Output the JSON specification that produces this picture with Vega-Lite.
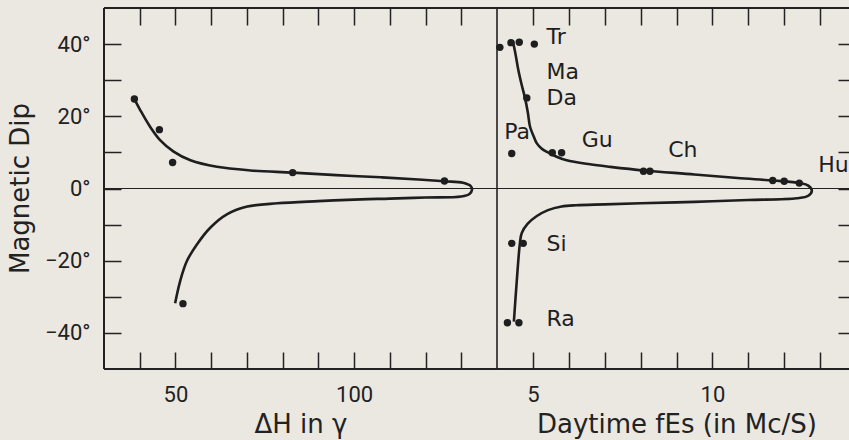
{
  "$schema": "https://vega.github.io/schema/vega-lite/v6.json",
  "width": 745,
  "height": 361,
  "autosize": {"type": "none"},
  "padding": {"left": 104, "top": 8, "right": 0, "bottom": 71},
  "background": "#ebe7e1",
  "config": {
    "view": {"stroke": null},
    "axis": {
      "grid": false,
      "domain": false,
      "tickColor": "#222222",
      "tickWidth": 1.5,
      "tickSize": 17,
      "offset": -17,
      "labelColor": "#222222",
      "labelFont": "Roboto",
      "labelFontSize": 22,
      "labelOverlap": false,
      "labelFlush": false,
      "titleColor": "#222222",
      "titleFont": "DejaVu Sans",
      "titleFontSize": 26,
      "titleFontWeight": "normal"
    }
  },
  "datasets": {
    "swing_curve": [
      {"seq": 1, "dh": 38.8, "dip": 24.2},
      {"seq": 2, "dh": 40.1, "dip": 21.8},
      {"seq": 3, "dh": 42.9, "dip": 17.1},
      {"seq": 4, "dh": 45.7, "dip": 13.4},
      {"seq": 5, "dh": 49.5, "dip": 10.2},
      {"seq": 6, "dh": 54.2, "dip": 7.8},
      {"seq": 7, "dh": 61.6, "dip": 6.0},
      {"seq": 8, "dh": 71.0, "dip": 5.0},
      {"seq": 9, "dh": 82.8, "dip": 4.4},
      {"seq": 10, "dh": 95.0, "dip": 3.7},
      {"seq": 11, "dh": 107.5, "dip": 3.1},
      {"seq": 12, "dh": 118.0, "dip": 2.5},
      {"seq": 13, "dh": 125.3, "dip": 2.0},
      {"seq": 14, "dh": 130.5, "dip": 1.6},
      {"seq": 15, "dh": 132.6, "dip": 0.7},
      {"seq": 16, "dh": 133.0, "dip": -0.4},
      {"seq": 17, "dh": 132.3, "dip": -1.5},
      {"seq": 18, "dh": 130.0, "dip": -2.2},
      {"seq": 19, "dh": 120.0, "dip": -2.5},
      {"seq": 20, "dh": 110.0, "dip": -2.8},
      {"seq": 21, "dh": 101.9, "dip": -3.0},
      {"seq": 22, "dh": 90.0, "dip": -3.5},
      {"seq": 23, "dh": 78.5, "dip": -4.1},
      {"seq": 24, "dh": 70.1, "dip": -5.0},
      {"seq": 25, "dh": 64.5, "dip": -7.1},
      {"seq": 26, "dh": 59.8, "dip": -10.8},
      {"seq": 27, "dh": 56.0, "dip": -15.5},
      {"seq": 28, "dh": 53.2, "dip": -20.1},
      {"seq": 29, "dh": 51.3, "dip": -25.7},
      {"seq": 30, "dh": 49.9, "dip": -31.8}
    ],
    "swing_obs": [
      {"dh": 38.5, "dip": 24.8},
      {"dh": 45.5, "dip": 16.3},
      {"dh": 49.2, "dip": 7.2},
      {"dh": 82.8, "dip": 4.4},
      {"dh": 125.3, "dip": 2.1},
      {"dh": 52.1, "dip": -31.9}
    ],
    "fes_curve": [
      {"seq": 1, "fes": 4.44, "dip": 40.9},
      {"seq": 2, "fes": 4.52, "dip": 37.0},
      {"seq": 3, "fes": 4.59, "dip": 33.0},
      {"seq": 4, "fes": 4.68, "dip": 29.0},
      {"seq": 5, "fes": 4.78, "dip": 25.1},
      {"seq": 6, "fes": 4.86, "dip": 21.0},
      {"seq": 7, "fes": 4.92, "dip": 17.1},
      {"seq": 8, "fes": 5.02, "dip": 14.5},
      {"seq": 9, "fes": 5.11, "dip": 12.5},
      {"seq": 10, "fes": 5.24, "dip": 11.1},
      {"seq": 11, "fes": 5.38, "dip": 10.2},
      {"seq": 12, "fes": 5.66, "dip": 8.8},
      {"seq": 13, "fes": 5.94, "dip": 7.8},
      {"seq": 14, "fes": 6.59, "dip": 6.7},
      {"seq": 15, "fes": 7.15, "dip": 6.0},
      {"seq": 16, "fes": 8.08, "dip": 5.0},
      {"seq": 17, "fes": 9.5, "dip": 3.9},
      {"seq": 18, "fes": 10.7, "dip": 2.9},
      {"seq": 19, "fes": 11.7, "dip": 2.2},
      {"seq": 20, "fes": 12.44, "dip": 1.5},
      {"seq": 21, "fes": 12.67, "dip": 0.8},
      {"seq": 22, "fes": 12.77, "dip": -0.6},
      {"seq": 23, "fes": 12.67, "dip": -2.0},
      {"seq": 24, "fes": 12.35, "dip": -2.7},
      {"seq": 25, "fes": 11.0, "dip": -3.2},
      {"seq": 26, "fes": 9.5, "dip": -3.7},
      {"seq": 27, "fes": 8.0, "dip": -4.1},
      {"seq": 28, "fes": 7.0, "dip": -4.4},
      {"seq": 29, "fes": 6.2, "dip": -4.64},
      {"seq": 30, "fes": 5.8, "dip": -5.0},
      {"seq": 31, "fes": 5.42, "dip": -6.0},
      {"seq": 32, "fes": 5.1, "dip": -7.7},
      {"seq": 33, "fes": 4.85, "dip": -9.8},
      {"seq": 34, "fes": 4.69, "dip": -12.3},
      {"seq": 35, "fes": 4.64, "dip": -15.0},
      {"seq": 36, "fes": 4.55, "dip": -25.7},
      {"seq": 37, "fes": 4.47, "dip": -36.9}
    ],
    "fes_obs": [
      {"fes": 4.08, "dip": 39.1},
      {"fes": 4.39, "dip": 40.4},
      {"fes": 4.62, "dip": 40.5},
      {"fes": 5.04, "dip": 40.0},
      {"fes": 4.83, "dip": 25.1},
      {"fes": 4.41, "dip": 9.7},
      {"fes": 5.54, "dip": 9.9},
      {"fes": 5.8, "dip": 9.9},
      {"fes": 8.08, "dip": 4.8},
      {"fes": 8.26, "dip": 4.8},
      {"fes": 11.68, "dip": 2.2},
      {"fes": 12.0, "dip": 2.0},
      {"fes": 12.42, "dip": 1.5},
      {"fes": 4.41, "dip": -15.2},
      {"fes": 4.73, "dip": -15.2},
      {"fes": 4.29, "dip": -37.2},
      {"fes": 4.61, "dip": -37.2}
    ],
    "stations": [
      {"station": "Tr", "fes": 5.38, "dip": 42.0},
      {"station": "Ma", "fes": 5.38, "dip": 32.4},
      {"station": "Da", "fes": 5.38, "dip": 25.2},
      {"station": "Pa", "fes": 4.2, "dip": 15.7},
      {"station": "Gu", "fes": 6.36, "dip": 13.4},
      {"station": "Ch", "fes": 8.77, "dip": 10.6},
      {"station": "Hu", "fes": 12.95, "dip": 6.4},
      {"station": "Si", "fes": 5.38, "dip": -15.5},
      {"station": "Ra", "fes": 5.38, "dip": -36.2}
    ],
    "frame_x": [{"edge": 30, "w": 2}, {"edge": 140, "w": 1.6}],
    "frame_y": [{"edge": 50, "w": 2}, {"edge": -50, "w": 2}, {"edge": 0, "w": 1}]
  },
  "resolve": {"scale": {"x": "independent", "y": "independent"}},
  "layer": [
    {
      "layer": [
        {
          "data": {"name": "frame_y"},
          "mark": {"type": "rule", "color": "#222222"},
          "encoding": {
            "y": {"field": "edge", "type": "quantitative", "scale": {"domain": [-50, 50]}},
            "strokeWidth": {"field": "w", "type": "quantitative", "scale": null}
          }
        },
        {
          "data": {"name": "frame_x"},
          "mark": {"type": "rule", "color": "#222222"},
          "encoding": {
            "x": {"field": "edge", "type": "quantitative", "scale": {"domain": [30, 140], "range": [0, 393]}},
            "strokeWidth": {"field": "w", "type": "quantitative", "scale": null}
          }
        },
        {
          "data": {"name": "swing_curve"},
          "mark": {"type": "line", "color": "#1e1e1e", "strokeWidth": 2.6, "interpolate": "catmull-rom"},
          "encoding": {
            "x": {
              "field": "dh", "type": "quantitative",
              "scale": {"domain": [30, 140], "range": [0, 393]},
              "axis": {
                "orient": "bottom",
                "values": [40, 50, 60, 70, 80, 90, 100, 110, 120, 130],
                "labelPadding": 15,
                "labelExpr": "datum.value == 50 || datum.value == 100 ? datum.label : ''",
                "title": "ΔH in γ",
                "titleY": 80,
                "titleBaseline": "alphabetic"
              }
            },
            "y": {
              "field": "dip", "type": "quantitative",
              "scale": {"domain": [-50, 50]},
              "axis": {
                "orient": "left",
                "values": [-40, -30, -20, -10, 0, 10, 20, 30, 40],
                "labelPadding": 14,
                "labelExpr": "datum.value % 20 != 0 ? '' : (datum.value < 0 ? '−' + abs(datum.value) : datum.value) + '°'",
                "title": "Magnetic Dip",
                "titleX": -93,
                "titleY": 180,
                "titleBaseline": "alphabetic"
              }
            },
            "order": {"field": "seq", "type": "quantitative"}
          }
        }
      ]
    },
    {
      "data": {"name": "swing_obs"},
      "mark": {"type": "point", "filled": true, "opacity": 1, "color": "#1e1e1e", "size": 55},
      "encoding": {
        "x": {
          "field": "dh", "type": "quantitative",
          "scale": {"domain": [30, 140], "range": [0, 393]},
          "axis": {
            "orient": "top",
            "values": [40, 50, 60, 70, 80, 90, 100, 110, 120, 130],
            "labels": false,
            "title": null
          }
        },
        "y": {"field": "dip", "type": "quantitative", "scale": {"domain": [-50, 50]}, "axis": null}
      }
    },
    {
      "data": {"name": "fes_curve"},
      "mark": {"type": "line", "color": "#1e1e1e", "strokeWidth": 2.6, "interpolate": "catmull-rom"},
      "encoding": {
        "x": {
          "field": "fes", "type": "quantitative",
          "scale": {"domain": [4, 14], "range": [393, 752]},
          "axis": {
            "orient": "bottom",
            "values": [5, 6, 7, 8, 9, 10, 11, 12, 13],
            "labelPadding": 15,
            "labelExpr": "datum.value == 5 || datum.value == 10 ? datum.label : ''",
            "title": "Daytime fEs (in Mc/S)",
            "titleY": 80,
            "titleBaseline": "alphabetic"
          }
        },
        "y": {
          "field": "dip", "type": "quantitative",
          "scale": {"domain": [-50, 50]},
          "axis": {
            "orient": "right",
            "offset": -11,
            "tickSize": 18,
            "values": [-40, -30, -20, -10, 0, 10, 20, 30, 40],
            "labels": false,
            "title": null
          }
        },
        "order": {"field": "seq", "type": "quantitative"}
      }
    },
    {
      "layer": [
        {
          "data": {"name": "fes_obs"},
          "mark": {"type": "point", "filled": true, "opacity": 1, "color": "#1e1e1e", "size": 55},
          "encoding": {
            "x": {
              "field": "fes", "type": "quantitative",
              "scale": {"domain": [4, 14], "range": [393, 752]},
              "axis": {
                "orient": "top",
                "values": [5, 6, 7, 8, 9, 10, 11, 12, 13],
                "labels": false,
                "title": null
              }
            },
            "y": {"field": "dip", "type": "quantitative", "scale": {"domain": [-50, 50]}, "axis": null}
          }
        },
        {
          "data": {"name": "stations"},
          "mark": {"type": "text", "align": "left", "baseline": "middle", "font": "DejaVu Sans", "fontSize": 22, "color": "#1e1e1e"},
          "encoding": {
            "x": {"field": "fes", "type": "quantitative", "scale": {"domain": [4, 14], "range": [393, 752]}},
            "y": {"field": "dip", "type": "quantitative", "scale": {"domain": [-50, 50]}},
            "text": {"field": "station", "type": "nominal"}
          }
        }
      ]
    }
  ]
}
